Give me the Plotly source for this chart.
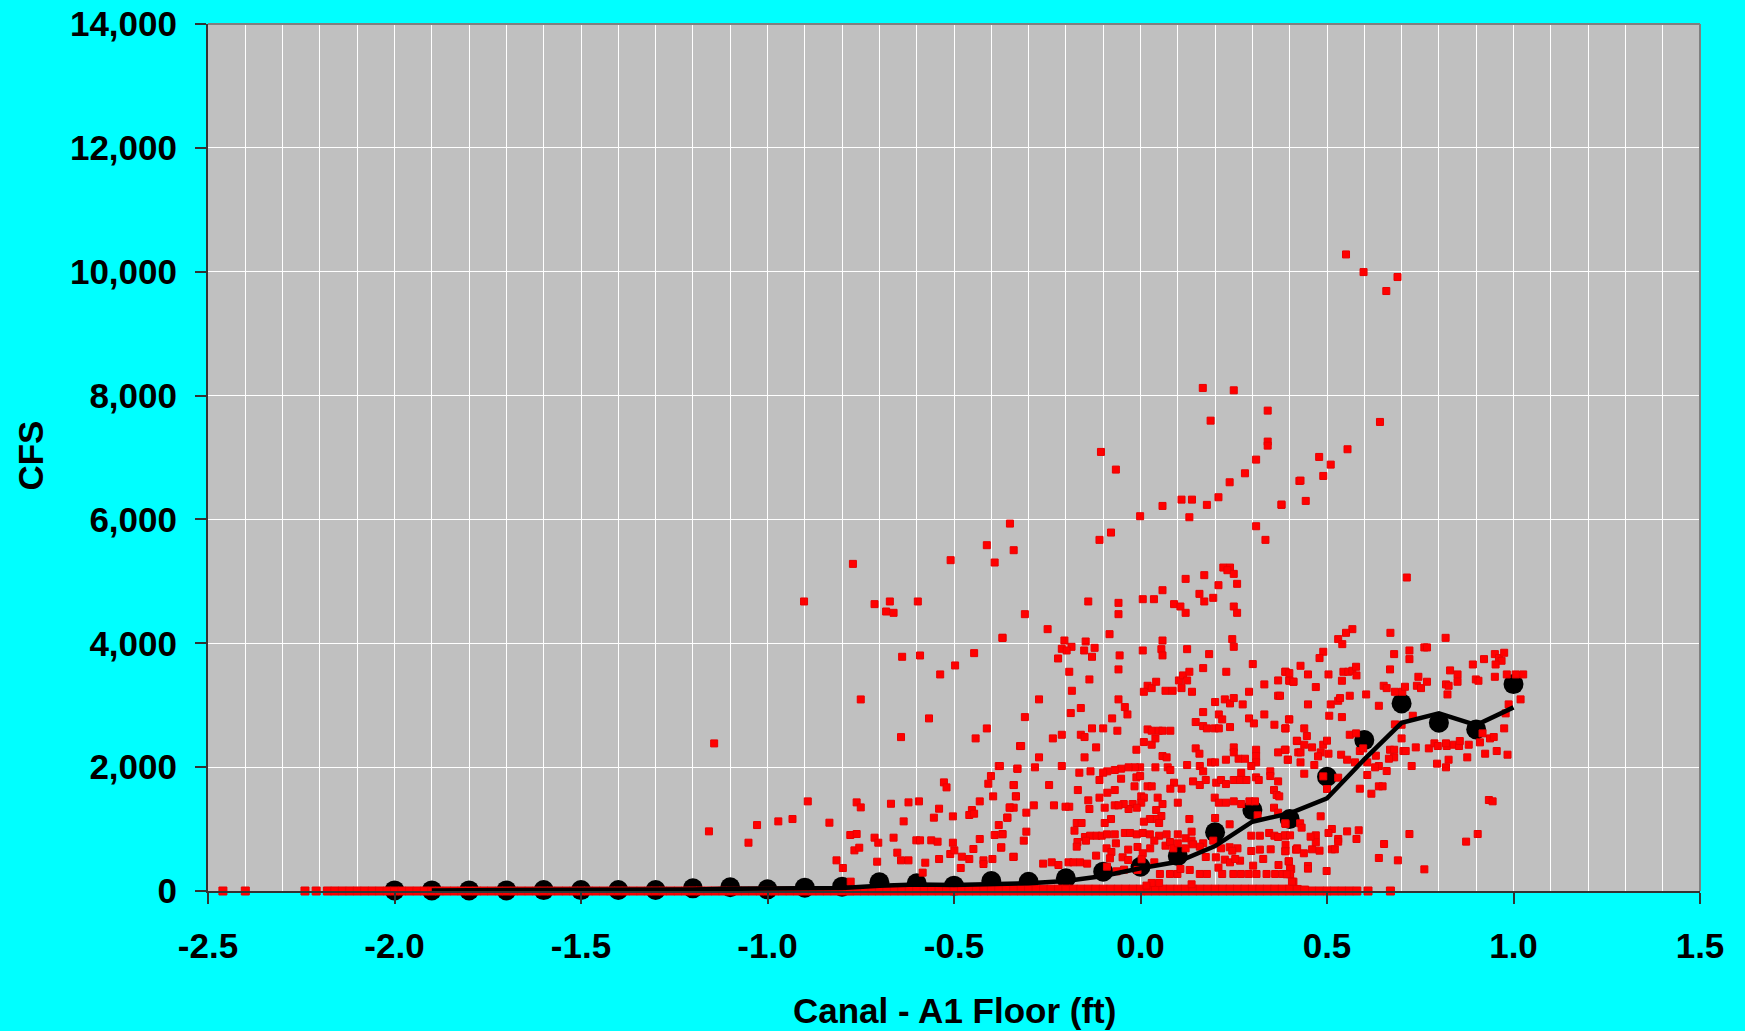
import plotly.graph_objects as go

# ---------------- data ----------------
x_tick_vals = [-2.5, -2.0, -1.5, -1.0, -0.5, 0.0, 0.5, 1.0, 1.5]
x_tick_text = ["-2.5", "-2.0", "-1.5", "-1.0", "-0.5", "0.0", "0.5", "1.0", "1.5"]
y_tick_vals = [0, 2000, 4000, 6000, 8000, 10000, 12000, 14000]
y_tick_text = ["0", "2,000", "4,000", "6,000", "8,000", "10,000", "12,000", "14,000"]

# binned averages (black dots)
dot_x = [-2.0, -1.9, -1.8, -1.7, -1.6, -1.5, -1.4, -1.3, -1.2, -1.1, -1.0,
         -0.9, -0.8, -0.7, -0.6, -0.5, -0.4, -0.3, -0.2, -0.1, 0.0,
         0.1, 0.2, 0.3, 0.4, 0.5, 0.6, 0.7, 0.8, 0.9, 1.0]
dot_y = [10, 10, 10, 10, 15, 15, 16, 16, 43, 60, 27,
         54, 70, 140, 124, 86, 161, 150, 205, 312, 392,
         565, 947, 1307, 1162, 1845, 2437, 3029, 2716, 2609, 3341]

# smoothed curve (black line)
line_x = [-1.9, -1.8, -1.7, -1.6, -1.5, -1.4, -1.3, -1.2, -1.1, -1.0,
          -0.9, -0.8, -0.7, -0.6, -0.5, -0.4, -0.3, -0.2, -0.1, 0.0,
          0.1, 0.2, 0.3, 0.4, 0.5, 0.6, 0.7, 0.8, 0.9, 1.0]
line_y = [10, 10, 12, 13, 14, 16, 20, 25, 35, 40,
          40, 50, 85, 105, 95, 110, 125, 160, 242, 366,
          473, 726, 1119, 1254, 1496, 2125, 2716, 2868, 2679, 2965]

# red observations: left part
left_x = [-0.350, -0.412, -0.340, -0.391, -0.509, -0.771, -0.902, -0.713, -0.672, -0.682,
          -0.662, -0.597, -0.370, -0.639, -0.591, -0.446, -0.497, -0.537, -0.750, -0.567,
          -0.642, -0.442, -0.412, -1.143, -0.323, -0.380, -0.330, -0.401, -0.408, -0.527,
          -0.520, -0.340, -0.395, -0.334, -0.892, -0.761, -0.750, -0.669, -0.622, -0.594,
          -0.431, -0.540, -0.452, -0.459, -0.446, -0.503, -0.554, -0.350, -0.357, -1.157,
          -1.028, -0.971, -0.933, -0.834, -0.635, -1.051, -0.778, -0.761, -0.713, -0.703,
          -0.662, -0.601, -0.591, -0.561, -0.544, -0.503, -0.431, -0.391, -0.370, -0.380,
          -0.767, -0.754, -0.652, -0.642, -0.622, -0.577, -0.540, -0.510, -0.499, -0.479,
          -0.459, -0.448, -0.421, -0.421, -0.397, -0.374, -0.340, -0.815, -0.798, -0.706,
          -0.482, -0.584, -0.777]
left_y = [5933, 5584, 5503, 5304, 5342, 5282, 4675, 4632, 4675, 4513,
          4492, 4675, 4088, 3782, 3803, 3841, 3642, 3497, 3093, 2787,
          2485, 2464, 2625, 2383, 2340, 2017, 1974, 1856, 1732, 1754,
          1673, 1711, 1528, 1528, 1447, 1431, 1350, 1409, 1431, 1447,
          1447, 1329, 1307, 1227, 1248, 1205, 1184, 1350, 1184, 963,
          1065, 1124, 1162, 1103, 1124, 780, 904, 920, 861, 780,
          861, 818, 818, 818, 796, 780, 839, 904, 920, 1065,
          656, 699, 619, 495, 495, 457, 516, 597, 656, 554,
          516, 678, 495, 436, 516, 699, 554, 495, 371, 473,
          371, 296, 151]

# red observations: upper middle
upper_x = [0.167, 0.250, 0.341, 0.188, 0.341, 0.341, 0.310, 0.280, 0.239, 0.426,
           -0.106, -0.066, 0.209, 0.178, 0.110, 0.138, 0.059, -0.001, 0.131, 0.378,
           0.310, 0.335, -0.079, -0.110, 0.222, 0.240, 0.233, 0.250, 0.259, 0.171,
           0.121, 0.209, 0.059, 0.158, 0.195, 0.171, 0.090, 0.107, 0.121, 0.250,
           0.259, 0.006, 0.036, -0.059, -0.059, -0.140, -0.310, -0.249, -0.370, -0.083,
           -0.204, -0.147, -0.185, -0.211, -0.198, -0.151, -0.123, -0.130, -0.221, -0.056,
           0.006, 0.059, 0.056, 0.059, 0.125, 0.184, 0.246, 0.250]
upper_y = [8123, 8085, 7757, 7595, 7257, 7192, 6966, 6745, 6600, 6622,
           7090, 6805, 6358, 6235, 6320, 6320, 6218, 6052, 6035, 6235,
           5890, 5670, 5788, 5670, 5223, 5223, 5180, 5121, 4960, 5100,
           5040, 4938, 4857, 4798, 4734, 4675, 4632, 4594, 4492, 4594,
           4492, 4712, 4712, 4653, 4470, 4675, 4470, 4228, 4088, 4147,
           4045, 4029, 3943, 3911, 3884, 3884, 3927, 3782, 3755, 3804,
           3884, 4045, 3905, 3804, 3905, 3825, 4067, 3943]

# red observations: dense middle (upper half)
mid_a_x = [-0.191, -0.059, -0.137, -0.184, -0.272, -0.059, -0.042, -0.035, -0.160, -0.187,
           -0.310, -0.076, -0.235, -0.211, -0.160, -0.150, -0.130, -0.100, -0.062, -0.320,
           -0.119, -0.150, -0.272, -0.011, 0.009, 0.030, 0.040, 0.019, 0.030, 0.049,
           0.059, 0.080, 0.019, 0.030, 0.009, 0.042, 0.067, 0.086, 0.103, 0.114,
           0.125, 0.131, 0.110, 0.138, 0.168, 0.230, 0.301, 0.332, 0.369, 0.389,
           0.399, 0.410, 0.291, 0.369, 0.200, 0.226, 0.240, 0.250, 0.274, 0.168,
           0.210, 0.219, 0.291, 0.304, 0.332, 0.359, 0.389, 0.399, 0.148, 0.168,
           0.178, 0.199, 0.210, 0.240, 0.420, 0.148, 0.158, 0.189, 0.200, 0.229,
           0.250, 0.250, 0.263, 0.280, 0.310, 0.310, 0.310, 0.297, 0.369, 0.389,
           0.395, 0.423, 0.125, 0.159, 0.168, 0.059, 0.070, 0.040, 0.073, 0.080,
           -0.001, -0.015, -0.032, -0.052, -0.069, -0.089, -0.100, -0.134, -0.164, -0.211,
           -0.283, -0.330, -0.377, -0.110, -0.052, -0.011, -0.001, -0.016, 0.019, 0.030,
           0.090, 0.080, 0.110, 0.141, 0.159, 0.175, 0.203, 0.216, 0.229, 0.250,
           0.267, 0.284, 0.270, 0.310, 0.317, 0.348, 0.348, 0.369, 0.358, 0.365,
           0.372, -0.245, -0.340, -0.334, -0.168, -0.089, -0.069, -0.110, -0.140, 0.002]
mid_a_y = [3540, 3578, 3416, 3233, 3094, 3094, 2970, 2851, 2954, 2873,
           2808, 2787, 2464, 2523, 2523, 2486, 2626, 2626, 2588, 2341,
           2319, 2158, 2158, 2281, 2405, 2362, 2464, 2609, 2588, 2588,
           2588, 2588, 3314, 3276, 3217, 3379, 3233, 3233, 3400, 3481,
           3400, 3540, 3276, 3217, 3599, 3540, 3664, 3336, 3400, 3540,
           3400, 3379, 3217, 3153, 3051, 3094, 3029, 3115, 3013, 2889,
           2851, 2771, 2787, 2706, 2851, 2685, 2626, 2771, 2728, 2663,
           2626, 2626, 2626, 2647, 2421, 2303, 2217, 2077, 2077, 2120,
           2319, 2238, 2136, 2136, 2281, 2179, 2077, 2018, 2238, 2281,
           2120, 2238, 2034, 2018, 1932, 2179, 2158, 1997, 1997, 1954,
           1997, 1997, 1997, 1975, 1954, 1932, 1910, 1932, 1910, 2018,
           1997, 1975, 2018, 1792, 1813, 1835, 1856, 1690, 1690, 1690,
           1749, 1652, 1652, 1770, 1711, 1792, 1749, 1792, 1727, 1792,
           1792, 1792, 1910, 1835, 1792, 1932, 1856, 1770, 1630, 1550,
           1528, 1711, 1711, 1528, 1630, 1587, 1630, 1507, 1464, 1528]

# red observations: dense middle (lower half)
mid_b_x = [0.009, 0.046, 0.002, -0.021, -0.010, -0.032, -0.045, -0.069, -0.059, -0.096,
           -0.137, -0.191, -0.201, -0.232, -0.286, -0.306, -0.340, -0.351, -0.357, 0.059,
           0.100, 0.042, 0.056, 0.040, 0.025, 0.050, 0.009, 0.131, 0.199, 0.210,
           0.229, 0.250, 0.270, 0.292, 0.307, 0.314, 0.358, 0.369, 0.389, 0.239,
           0.200, -0.171, -0.158, -0.177, -0.079, -0.096, -0.306, -0.370, -0.313, -0.373,
           -0.341, -0.149, -0.135, -0.118, -0.104, -0.090, -0.069, -0.042, -0.028, -0.010,
           0.006, 0.025, 0.050, 0.070, 0.100, 0.137, 0.121, 0.137, 0.168, 0.195,
           0.239, 0.260, 0.297, 0.320, 0.345, 0.359, 0.369, 0.389, 0.389, 0.420,
           -0.169, -0.146, -0.171, -0.091, -0.066, -0.078, -0.033, -0.008, 0.006, 0.026,
           0.037, 0.067, 0.079, 0.088, 0.100, 0.121, 0.141, 0.159, 0.175, 0.216,
           0.246, 0.267, 0.297, 0.320, 0.349, 0.389, 0.417, -0.261, -0.238, -0.220,
           -0.193, -0.180, -0.162, -0.143, -0.119, -0.082, -0.048, -0.033, -0.090, -0.064,
           -0.044, -0.008, 0.003, 0.037, 0.052, 0.079, 0.099, 0.107, 0.132, 0.159,
           0.178, 0.202, 0.209, 0.226, 0.240, 0.254, 0.219, 0.249, 0.269, 0.290,
           0.311, 0.338, 0.361, 0.381, 0.401, 0.404, 0.397, 0.302, 0.329, 0.370,
           0.410, 0.137, 0.030, 0.050, 0.016]
mid_b_y = [1507, 1507, 1426, 1404, 1345, 1324, 1404, 1383, 1383, 1345,
           1324, 1361, 1361, 1383, 1383, 1265, 1345, 1345, 1184, 1404,
           1426, 1307, 1211, 1162, 1162, 1098, 1119, 1162, 1507, 1426,
           1426, 1448, 1404, 1448, 1448, 1222, 1345, 1265, 1082, 1077,
           1179, 1098, 1098, 974, 1162, 1098, 958, 915, 813, 706,
           549, 872, 893, 893, 893, 915, 915, 937, 937, 915,
           937, 915, 893, 915, 915, 958, 851, 813, 770, 813,
           706, 689, 893, 893, 937, 893, 872, 893, 748, 689,
           791, 813, 716, 689, 770, 630, 668, 711, 609, 689,
           813, 732, 791, 689, 770, 689, 754, 716, 549, 689,
           651, 490, 646, 668, 673, 646, 668, 442, 463, 420,
           463, 463, 463, 442, 571, 528, 544, 501, 393, 318,
           345, 340, 512, 463, 275, 275, 275, 356, 340, 275,
           275, 544, 377, 506, 463, 517, 275, 275, 275, 275,
           275, 275, 275, 275, 275, 356, 479, 409, 517, 420,
           151, 108, 130, 130, 87]

# red observations: upper right
uright_x = [0.551, 0.598, 0.689, 0.659, 0.642, 0.555, 0.479, 0.510, 0.490, 0.429,
            0.443, 0.378, 0.714, 0.568, 0.551, 0.530, 0.541, 0.670, 0.818]
uright_y = [10279, 9994, 9914, 9688, 7574, 7133, 7009, 6885, 6702, 6627,
            6299, 6240, 5062, 4228, 4169, 4067, 3986, 4169, 4088]

# red observations: lower right
right_x = [0.490, 0.480, 0.429, 0.388, 0.399, 0.449, 0.504, 0.544, 0.557, 0.568,
           0.578, 0.579, 0.540, 0.470, 0.399, 0.410, 0.374, 0.449, 0.510, 0.530,
           0.535, 0.561, 0.605, 0.639, 0.506, 0.540, 0.398, 0.388, 0.439, 0.446,
           0.419, 0.439, 0.460, 0.490, 0.500, 0.483, 0.476, 0.504, 0.538, 0.561,
           0.578, 0.429, 0.387, 0.395, 0.429, 0.466, 0.554, 0.575, 0.439, 0.530,
           0.490, 0.500, 0.588, 0.619, 0.608, 0.639, 0.649, 0.639, 0.660, 0.629,
           0.608, 0.588, 0.597, 0.631, 0.669, 0.680, 0.680, 0.666, 0.705, 0.711,
           0.700, 0.738, 0.727, 0.773, 0.788, 0.797, 0.821, 0.840, 0.854, 0.856,
           0.880, 0.819, 0.795, 0.819, 0.826, 0.876, 0.924, 0.955, 0.984, 0.937,
           0.947, 0.975, 0.917, 0.910, 0.682, 0.700, 0.730, 0.682, 0.702, 0.709,
           0.652, 0.660, 0.669, 0.680, 0.721, 0.721, 0.761, 0.768, 0.745, 0.741,
           0.752, 0.768, 0.819, 0.823, 0.826, 0.830, 0.850, 0.850, 0.891, 0.921,
           0.899, 0.906, 0.950, 0.961, 0.968, 0.975, 0.952, 0.950, 0.982, 1.006,
           1.026, 1.019, 0.987, 0.979, 0.934, 0.944, 0.904, 0.873, 0.721, 0.761,
           0.653, 0.639, 0.690, 0.585, 0.554, 0.530, 0.513, 0.504, 0.513, 0.521,
           0.480, 0.460, 0.438, 0.419, 0.470, 0.470, 0.456, 0.483, 0.499, 0.449,
           0.449, 0.401, 0.401, 0.392, 0.406, 0.398, 0.388, 0.428, 0.432, 0.387,
           0.401, 0.388, 0.579, 0.530]
right_y = [3863, 3761, 3637, 3540, 3518, 3497, 3497, 3540, 3540, 3556,
           3621, 3481, 3395, 3293, 3395, 3379, 3153, 3013, 3013, 3072,
           3115, 3153, 3174, 2991, 2830, 2808, 2771, 2626, 2626, 2502,
           2427, 2362, 2319, 2362, 2427, 2238, 2174, 2217, 2201, 2523,
           2545, 2238, 2281, 2120, 2077, 2034, 2120, 2077, 1894, 1830,
           1851, 1647, 1652, 1571, 1873, 1690, 1690, 2018, 1937, 1997,
           2077, 2260, 2303, 2185, 2281, 2281, 2158, 2136, 2260, 2260,
           2464, 2319, 2018, 2303, 2384, 2341, 2341, 2362, 2341, 2421,
           2362, 2384, 2056, 1997, 2120, 2158, 2217, 2260, 2201, 2464,
           2486, 2626, 2545, 2400, 2690, 2685, 2830, 3217, 3217, 3298,
           3314, 3276, 3578, 3825, 3884, 3744, 3933, 3933, 3459, 3314,
           3276, 3379, 3336, 3174, 3314, 3562, 3497, 3379, 3658, 3744,
           3416, 3395, 3825, 3761, 3718, 3847, 3658, 3459, 3497, 3497,
           3497, 3094, 3013, 2868, 1469, 1448, 920, 797, 920, 350,
           759, 533, 495, 980, 963, 840, 1001, 937, 673, 673,
           651, 673, 609, 673, 899, 786, 877, 1206, 323, 404,
           361, 361, 270, 270, 151, 479, 1093, 1093, 1023, 899,
           899, 641, 840, 797]

# observations sitting on (or very near) zero flow
zero_x = [-2.46, -2.40, -2.24, -2.21, -2.18,
          -2.16, -2.14, -2.12, -2.10, -2.08, -2.06, -2.04, -2.02, -2.00, -1.98,
          -1.96, -1.94, -1.92, -1.90, -1.88, -1.86, -1.84, -1.82, -1.80, -1.78,
          -1.76, -1.74, -1.72, -1.70, -1.68, -1.66, -1.64, -1.62, -1.60, -1.58,
          -1.56, -1.54, -1.52, -1.50, -1.48, -1.46, -1.44, -1.42, -1.40, -1.38,
          -1.36, -1.34, -1.32, -1.30, -1.28, -1.26, -1.24, -1.22, -1.20, -1.18,
          -1.16, -1.14, -1.12, -1.10, -1.08, -1.06, -1.04, -1.02, -1.00, -0.98,
          -0.96, -0.94, -0.92, -0.90, -0.88, -0.86, -0.84, -0.82, -0.80, -0.78,
          -0.76, -0.74, -0.72, -0.70, -0.68, -0.66, -0.64, -0.62, -0.60, -0.58,
          -0.56, -0.54, -0.52, -0.50, -0.48, -0.46, -0.44, -0.42, -0.40, -0.38,
          -0.36, -0.34, -0.32, -0.30, -0.28, -0.26, -0.24, -0.22, -0.20, -0.18,
          -0.16, -0.14, -0.12, -0.10, -0.08, -0.06, -0.04, -0.02, 0.00, 0.02,
          0.04, 0.06, 0.08, 0.10, 0.12, 0.14, 0.16, 0.18, 0.20, 0.22,
          0.24, 0.26, 0.28, 0.30, 0.32, 0.34, 0.36, 0.38, 0.40, 0.42,
          0.44, 0.46, 0.48, 0.50, 0.52, 0.54, 0.56, 0.58, 0.61, 0.67]
zero_y = [0] * len(zero_x)

# small flows just above zero
small_x = [-0.78, -0.76, -0.74, -0.72, -0.70, -0.68, -0.66, -0.64, -0.62, -0.60,
           -0.58, -0.56, -0.54, -0.52, -0.50, -0.48, -0.46, -0.44, -0.42, -0.40,
           -0.38, -0.36, -0.34, -0.32, -0.30, -0.28, -0.26, -0.24, -0.22, -0.20,
           -0.18, -0.16, -0.14, -0.12, -0.10, -0.08, -0.06, -0.04, -0.02, 0.00,
           0.02, 0.04, 0.06, 0.08, 0.10, 0.12, 0.14, 0.16, 0.18, 0.20,
           0.22, 0.24, 0.26, 0.28, 0.30, 0.32, 0.34, 0.36, 0.38, 0.40,
           0.42, 0.44]
small_y = [5, 10, 15, 20, 25, 30, 30, 30, 30, 30,
           30, 30, 30, 30, 30, 30, 30, 30, 30, 30,
           30, 30, 30, 30, 30, 30, 30, 30, 30, 30,
           30, 30, 30, 30, 30, 30, 30, 30, 30, 30,
           30, 30, 30, 30, 30, 30, 30, 30, 30, 30,
           30, 30, 30, 30, 30, 30, 30, 30, 30, 30,
           25, 15]


def pairs(xs, ys):
    n = min(len(xs), len(ys))
    return list(xs[:n]), list(ys[:n])


low_x, low_y = [], []
for xs, ys in [(zero_x, zero_y), (small_x, small_y)]:
    a, b = pairs(xs, ys)
    low_x += a
    low_y += b

red_x, red_y = [], []
for xs, ys in [(left_x, left_y), (upper_x, upper_y), (mid_a_x, mid_a_y),
               (mid_b_x, mid_b_y), (uright_x, uright_y), (right_x, right_y)]:
    a, b = pairs(xs, ys)
    red_x += a
    red_y += b

# ---------------- figure ----------------
FONT = "Liberation Sans, Arial, Helvetica, sans-serif"
RED_MARKER = dict(symbol="square", color="#ff0000", line=dict(color="#e80000", width=1))

fig = go.Figure()

fig.add_trace(go.Scatter(
    x=dot_x, y=dot_y, mode="markers",
    marker=dict(symbol="circle", size=20, color="black"),
    cliponaxis=False, hoverinfo="x+y",
))
fig.add_trace(go.Scatter(
    x=low_x, y=low_y, mode="markers",
    marker=dict(size=8, **RED_MARKER),
    cliponaxis=False, hoverinfo="x+y",
))
fig.add_trace(go.Scatter(
    x=red_x, y=red_y, mode="markers",
    marker=dict(size=7, **RED_MARKER),
    cliponaxis=False, hoverinfo="x+y",
))
fig.add_trace(go.Scatter(
    x=line_x, y=line_y, mode="lines",
    line=dict(color="black", width=4.5),
    cliponaxis=False, hoverinfo="x+y",
))

fig.update_layout(
    width=1745, height=1031,
    paper_bgcolor="#00FFFF", plot_bgcolor="#C0C0C0",
    margin=dict(l=208, r=45, t=24, b=140, autoexpand=False),
    showlegend=False,
    font=dict(family=FONT, size=35, color="black", weight="bold"),
)

fig.update_xaxes(
    range=[-2.5, 1.5], automargin=False,
    tickmode="array", tickvals=x_tick_vals, ticktext=x_tick_text,
    showgrid=True, gridcolor="white", gridwidth=1,
    minor=dict(dtick=0.1, tick0=-2.5, showgrid=True, gridcolor="white", gridwidth=1),
    ticks="outside", ticklen=11, tickwidth=1.5, tickcolor="#333333",
    showline=True, linecolor="#333333", linewidth=2, zeroline=False,
    ticklabelstandoff=12,
    tickfont=dict(family=FONT, size=35, color="black", weight="bold"),
)
fig.update_yaxes(
    range=[0, 14000], automargin=False,
    tickmode="array", tickvals=y_tick_vals, ticktext=y_tick_text,
    showgrid=True, gridcolor="white", gridwidth=1,
    ticks="outside", ticklen=11, tickwidth=1.5, tickcolor="#333333",
    showline=True, linecolor="#333333", linewidth=2, zeroline=False,
    ticklabelstandoff=11,
    tickfont=dict(family=FONT, size=35, color="black", weight="bold"),
)

# plot-area border on top and right (gray)
fig.add_shape(type="line", xref="paper", yref="paper", x0=0, x1=1, y0=1, y1=1,
              line=dict(color="#808080", width=2), layer="above")
fig.add_shape(type="line", xref="paper", yref="paper", x0=1, x1=1, y0=0, y1=1,
              line=dict(color="#808080", width=2), layer="above")

# axis titles
fig.add_annotation(text="CFS", xref="paper", yref="paper", x=-0.1196, y=0.5017,
                   xanchor="center", yanchor="middle", textangle=-90, showarrow=False,
                   font=dict(family=FONT, size=35, color="black", weight="bold"))
fig.add_annotation(text="Canal - A1 Floor (ft)", xref="paper", yref="paper", x=0.5, y=-0.138,
                   xanchor="center", yanchor="middle", showarrow=False,
                   font=dict(family=FONT, size=35, color="black", weight="bold"))

fig.write_html("out.html", config={"displayModeBar": False})

# remove the browser's default page margin so the figure fills the window exactly
with open("out.html", "r", encoding="utf-8") as f:
    html = f.read()
html = html.replace("<head>", "<head><style>html,body{margin:0;padding:0;overflow:hidden;background:#00FFFF}</style>", 1)
with open("out.html", "w", encoding="utf-8") as f:
    f.write(html)
